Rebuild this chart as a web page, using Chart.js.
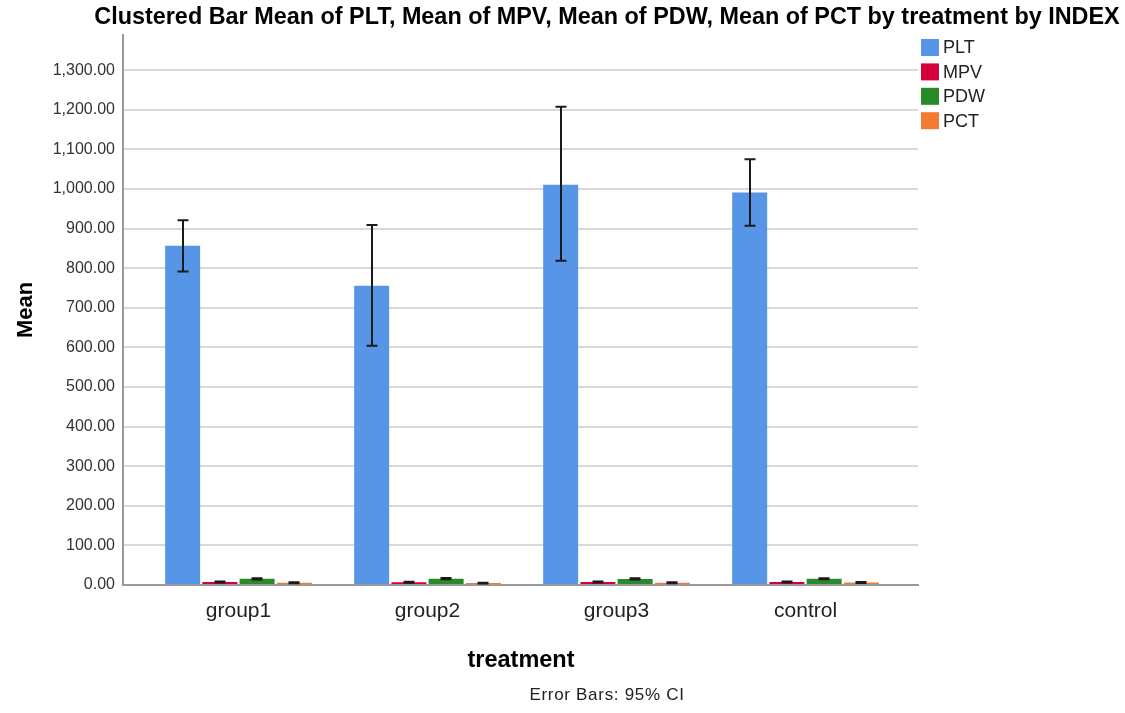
<!DOCTYPE html>
<html><head><meta charset="utf-8">
<script src="https://cdn.jsdelivr.net/npm/chart.js@4.4.1/dist/chart.umd.min.js"></script>
<style>html,body{margin:0;padding:0;background:#fff}#wrap{width:1125px;height:713px;position:relative}</style>
</head><body><div id="wrap"><canvas id="c" width="1125" height="713"></canvas></div>
<script>
const titleText = 'Clustered Bar Mean of PLT, Mean of MPV, Mean of PDW, Mean of PCT by treatment by INDEX';
const xTitle = 'treatment';
const yTitle = 'Mean';
const footerText = 'Error Bars: 95% CI';
const categories = ['group1', 'group2', 'group3', 'control'];
const seriesNames = ['PLT', 'MPV', 'PDW', 'PCT'];
const pltMean = [857, 756, 1011, 991];
const pltLow = [792, 604, 819, 907];
const pltHigh = [921, 909, 1208, 1075];
const mpvMean = [7.4, 7.2, 7.3, 7.6];
const mpvLow = [6.0, 5.9, 6.0, 6.3];
const mpvHigh = [8.8, 8.5, 8.6, 8.9];
const pdwMean = [15.6, 16.0, 15.4, 15.8];
const pdwLow = [14.2, 14.5, 14.0, 14.4];
const pdwHigh = [17.0, 17.5, 16.8, 17.2];
const pctMean = [5.6, 4.8, 5.8, 6.2];
const pctLow = [4.5, 3.7, 4.6, 5.0];
const pctHigh = [6.7, 5.9, 7.0, 7.4];
const yTicks = [0, 100, 200, 300, 400, 500, 600, 700, 800, 900, 1000, 1100, 1200, 1300];
const colors = ['#5796e6', '#d50039', '#288a28', '#f47a32'];

const means = [pltMean, mpvMean, pdwMean, pctMean];
const lows = [pltLow, mpvLow, pdwLow, pctLow];
const highs = [pltHigh, mpvHigh, pdwHigh, pctHigh];
const FONT = '"Liberation Sans", Arial, sans-serif';

const datasets = seriesNames.map((name, i) => ({
  label: name,
  data: means[i].map((v, j) => ({ x: j + 1, y: v })),
  errLow: lows[i],
  errHigh: highs[i],
  backgroundColor: colors[i],
  borderWidth: 0,
  barPercentage: 0.94,
  categoryPercentage: 0.788
}));

const decor = {
  id: 'decor',
  beforeDraw(chart) {
    const ctx = chart.ctx;
    ctx.save();
    ctx.fillStyle = '#ffffff';
    ctx.fillRect(0, 0, chart.width, chart.height);
    ctx.restore();
  },
  afterDatasetsDraw(chart) {
    const ctx = chart.ctx, ys = chart.scales.y;
    ctx.save();
    ctx.strokeStyle = '#1a1a1a';
    ctx.lineWidth = 2;
    chart.data.datasets.forEach((ds, i) => {
      const meta = chart.getDatasetMeta(i);
      meta.data.forEach((bar, j) => {
        const x = Math.round(bar.x);
        const y1 = ys.getPixelForValue(ds.errLow[j]);
        const y2 = ys.getPixelForValue(ds.errHigh[j]);
        ctx.beginPath();
        ctx.moveTo(x, y1); ctx.lineTo(x, y2);
        ctx.moveTo(x - 5.5, y1); ctx.lineTo(x + 5.5, y1);
        ctx.moveTo(x - 5.5, y2); ctx.lineTo(x + 5.5, y2);
        ctx.stroke();
      });
    });
    ctx.restore();
  },
  afterDraw(chart) {
    const ctx = chart.ctx;
    ctx.save();
    ctx.fillStyle = '#000';
    ctx.textAlign = 'center';
    ctx.textBaseline = 'alphabetic';
    ctx.font = 'bold 23.4px ' + FONT;
    ctx.fillText(titleText, 607, 24);
    ctx.font = 'bold 23.5px ' + FONT;
    ctx.fillText(xTitle, 521, 667);
    ctx.font = '17px ' + FONT;
    ctx.fillStyle = '#222';
    ctx.letterSpacing = '0.7px';
    ctx.fillText(footerText, 607, 700);
    ctx.letterSpacing = '0px';
    ctx.save();
    ctx.translate(32, 310);
    ctx.rotate(-Math.PI / 2);
    ctx.fillStyle = '#000';
    ctx.font = 'bold 22px ' + FONT;
    ctx.fillText(yTitle, 0, 0);
    ctx.restore();
    // legend
    ctx.textAlign = 'left';
    ctx.textBaseline = 'middle';
    ctx.font = '18px ' + FONT;
    chart.data.datasets.forEach((ds, i) => {
      const cy = 47.5 + i * 24.4;
      ctx.fillStyle = ds.backgroundColor;
      ctx.fillRect(921, cy - 8.5, 18, 17);
      ctx.fillStyle = '#222';
      ctx.fillText(ds.label, 943, cy + 1);
    });
    ctx.restore();
  }
};

new Chart(document.getElementById('c'), {
  type: 'bar',
  data: { datasets },
  options: {
    responsive: false,
    animation: false,
    events: [],
    layout: { padding: { top: 35, right: 207, left: 0, bottom: 0 } },
    plugins: { legend: { display: false }, title: { display: false }, tooltip: { enabled: false } },
    scales: {
      x: {
        type: 'linear',
        offset: false,
        min: 0.389,
        max: 4.595,
        afterBuildTicks: (s) => { s.ticks = categories.map((c, i) => ({ value: i + 1 })); },
        afterFit: (s) => { s.height = 128; },
        grid: { display: false, drawTicks: false, offset: false },
        border: { display: true, color: '#9a9a9a', width: 2 },
        ticks: {
          padding: 14,
          maxRotation: 0,
          autoSkip: false,
          color: '#222',
          font: { family: FONT, size: 21 },
          callback: (v) => categories[Math.round(v) - 1] || ''
        }
      },
      y: {
        min: 0,
        max: 1389,
        afterBuildTicks: (s) => { s.ticks = yTicks.map(v => ({ value: v })); },
        afterFit: (s) => { s.width = 123; },
        grid: { color: '#d9d9d9', lineWidth: 2, drawTicks: false },
        border: { display: true, color: '#9a9a9a', width: 2 },
        ticks: {
          padding: 8,
          color: '#333',
          font: { family: FONT, size: 16 },
          callback: (v) => Number(v).toLocaleString('en-US', { minimumFractionDigits: 2, maximumFractionDigits: 2 })
        }
      }
    }
  },
  plugins: [decor]
});
</script>
</body></html>
